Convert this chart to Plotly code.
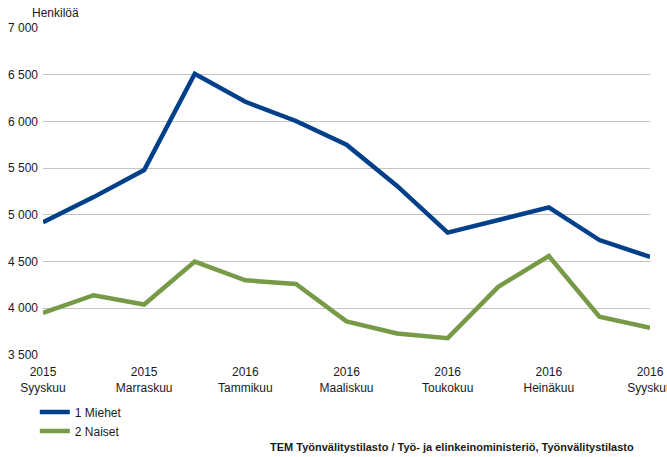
import plotly.graph_objects as go

months = ["2015 Syyskuu", "2015 Lokakuu", "2015 Marraskuu", "2015 Joulukuu", "2016 Tammikuu",
          "2016 Helmikuu", "2016 Maaliskuu", "2016 Huhtikuu", "2016 Toukokuu", "2016 Kesäkuu",
          "2016 Heinäkuu", "2016 Elokuu", "2016 Syyskuu"]
miehet = [4920, 5190, 5480, 6510, 6210, 6005, 5750, 5310, 4810, 4945, 5080, 4730, 4550]
naiset = [3950, 4140, 4040, 4500, 4300, 4260, 3860, 3730, 3680, 4230, 4560, 3910, 3790]
tick_idx = [0, 2, 4, 6, 8, 10, 12]
tick_labels = ["2015<br>Syyskuu", "2015<br>Marraskuu", "2016<br>Tammikuu", "2016<br>Maaliskuu",
               "2016<br>Toukokuu", "2016<br>Heinäkuu", "2016<br>Syyskuu"]
y_ticks = [3500, 4000, 4500, 5000, 5500, 6000, 6500, 7000]

x = list(range(len(months)))
FONT = "Liberation Sans, Arial, sans-serif"

fig = go.Figure()
fig.add_trace(go.Scatter(x=x, y=miehet, mode="lines", name="1 Miehet",
                         line=dict(color="#003F8A", width=4.5), text=months))
fig.add_trace(go.Scatter(x=x, y=naiset, mode="lines", name="2 Naiset",
                         line=dict(color="#779A47", width=4.5), text=months))

fig.update_layout(
    width=667, height=457,
    margin=dict(l=43, r=17, t=28, b=102, autoexpand=False),
    paper_bgcolor="white", plot_bgcolor="white",
    separators=", ",
    font=dict(family=FONT, size=12, color="#1a1a1a"),
    showlegend=True,
    legend=dict(x=-0.0135, y=-0.13, xanchor="left", yanchor="top", orientation="v",
                font=dict(size=12), itemwidth=30, tracegroupgap=0,
                bgcolor="rgba(0,0,0,0)"),
    xaxis=dict(range=[0, 12], tickvals=tick_idx, ticktext=tick_labels,
               showgrid=False, zeroline=False, showline=False, ticks="",
               tickfont=dict(size=12), automargin=False, ticklabeloverflow="allow",
               ticklabelstandoff=8),
    yaxis=dict(range=[3500, 7000], tickvals=y_ticks, tickformat=",d",
               showgrid=True, gridcolor="#C4C4C4", gridwidth=1, zeroline=False,
               showline=False, ticks="", tickfont=dict(size=12), automargin=False,
               ticklabelstandoff=4),
    annotations=[
        dict(text="Henkilöä", xref="paper", yref="paper", x=-0.021, y=1.0,
             yshift=15, xanchor="left", yanchor="middle", showarrow=False,
             font=dict(size=12)),
        dict(text="<b>TEM Työnvälitystilasto / Työ- ja elinkeinoministeriö, Työnvälitystilasto</b>",
             xref="paper", yref="paper", x=0.977, y=0.0, yshift=-92,
             xanchor="right", yanchor="middle", showarrow=False,
             font=dict(size=11)),
    ],
)

fig.write_html(
    "out.html",
    config={"displayModeBar": False},
    post_script="document.documentElement.style.margin='0';document.body.style.margin='0';"
                "document.body.style.overflow='hidden';",
)
